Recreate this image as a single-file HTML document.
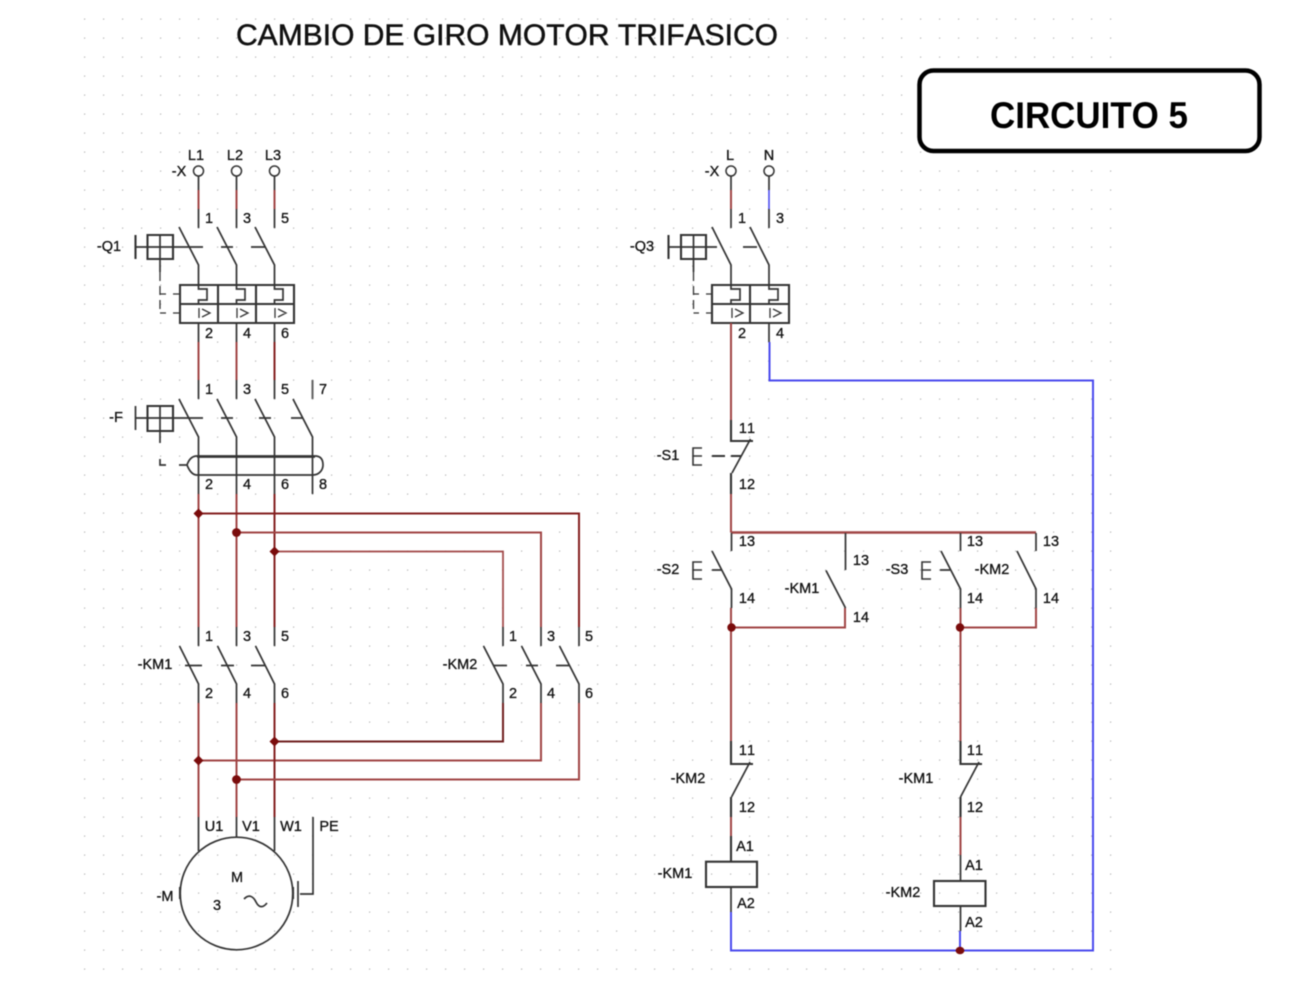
<!DOCTYPE html>
<html lang="es"><head><meta charset="utf-8"><title>Cambio de giro motor trifasico</title>
<style>
html,body{margin:0;padding:0;background:#fff}
svg{display:block;filter:blur(.4px)}
text{font-family:"Liberation Sans",sans-serif;font-size:14.5px;fill:#111;stroke:#111;stroke-width:.3px;text-anchor:middle;font-kerning:none}
.k,.r,.d,.b,.t{fill:none;stroke-linecap:butt;stroke-linejoin:miter}
.k{stroke:#333;stroke-width:1.7}
.t{stroke:#333;stroke-width:2.1}
.r{stroke:#a04545;stroke-width:2}
.d{stroke:#842020;stroke-width:2}
.b{stroke:#4a4aee;stroke-width:2}
.da{stroke-dasharray:9 5}
</style></head><body>
<svg width="1312" height="998" viewBox="0 0 1312 998" xmlns="http://www.w3.org/2000/svg">
<defs><pattern id="g" x="84" y="18.5" width="19" height="19" patternUnits="userSpaceOnUse"><rect width="1.2" height="1.2" fill="#b4b4b4"/></pattern></defs>
<rect width="1312" height="998" fill="#fff"/>
<rect x="84" y="18" width="1028" height="955" fill="url(#g)"/>

<text x="507" y="45" style="font-size:30px;stroke-width:.5px" textLength="542" lengthAdjust="spacingAndGlyphs">CAMBIO DE GIRO MOTOR TRIFASICO</text>
<rect x="919.5" y="70.5" width="340" height="80.5" rx="14" fill="#fff" stroke="#000" stroke-width="4.5"/>
<text x="1089" y="128" style="font-size:37px;font-weight:bold;fill:#000;stroke:none" textLength="198" lengthAdjust="spacingAndGlyphs">CIRCUITO 5</text>

<!-- Q1 -->
<g fill="#fff" stroke="#333" stroke-width="1.5"><circle cx="198.5" cy="171" r="5"/><circle cx="236.5" cy="171" r="5"/><circle cx="274.5" cy="171" r="5"/><circle cx="731" cy="171" r="5"/><circle cx="769" cy="171" r="5"/></g>
<path class="k" d="M198.5 176V190M236.5 176V190M274.5 176V190M198.5 209V228M236.5 209V228M274.5 209V228"/>
<path class="r" d="M198.5 190V209M236.5 190V209M274.5 190V209"/>
<path class="k" d="M179 227L198.5 265V285M217 227L236.5 265V285M255 227L274.5 265V285"/>
<path class="t" d="M135.5 235V259M147.5 235H173V259H147.5Z"/>
<path class="k" d="M160 235V259M135.5 247H203M221 247H233M251 247H265"/>
<path class="k" d="M160 259V272"/>
<path class="k da" style="stroke-width:1.3" d="M160 272V313"/>
<path class="k" style="stroke-width:1.3" d="M160 294H166M173 294H180M160 313H166M173 313H180"/>
<path class="t" d="M180 285H294V323H180ZM180 304H294M218 285V323M256 285V323"/>
<path class="k" d="M198.5 285V289H207V300H198.5V304M236.5 285V289H245V300H236.5V304M274.5 285V289H283V300H274.5V304"/>
<path class="k" style="stroke-width:1.3" d="M199 308V318M202 309L210 313L202 317M237 308V318M240 309L248 313L240 317M275 308V318M278 309L286 313L278 317"/>
<path class="k" d="M198.5 323V342M236.5 323V342M274.5 323V342"/>
<path class="r" d="M198.5 342V380M236.5 342V380"/><path class="d" d="M274.5 342V380"/>

<!-- F -->
<path class="k" d="M198.5 380V399M236.5 380V399M274.5 380V399"/><path class="t" style="stroke:#666" d="M312.5 380V399"/>
<path class="k" d="M179 399L198.5 437V494M217 399L236.5 437V494M255 399L274.5 437V494M293 399L312.5 437V494"/>
<path class="t" d="M147.5 406H173V431H147.5Z"/>
<path class="k" d="M135.5 406V430M160 406V443M135.5 418H203M221 418H233M259 418H271M291 418H303"/>
<path class="k" d="M160 459V465H166M179 465H187C189 459 192 456 197 456H315C321 456 323 460 323 465C323 470 319 475 313 475H197C192 475 189 470 187 465"/>
<path class="k" d="M197 457H315"/>

<!-- power wires -->
<path class="r" d="M198.5 494V627M236.5 494V627"/><path class="d" d="M274.5 494V627"/>
<path class="d" d="M198.5 513.5H579V627"/>
<path class="r" d="M236.5 532.5H541V627"/>
<path class="r" style="stroke-width:1.7" d="M274.5 551.5H503V627"/>
<g fill="#7a0c0c"><path d="M198.5 508.5l5 5l-5 5l-5-5z"/><circle cx="236.5" cy="532.5" r="4.4"/><path d="M274.5 546.5l5 5l-5 5l-5-5z"/></g>

<!-- KM1 / KM2 power -->
<path class="k" d="M198.5 627V646M236.5 627V646M274.5 627V646M503 627V646M541 627V646M579 627V646"/>
<path class="k" d="M179.5 646L198.5 684V703M217.5 646L236.5 684V703M255.5 646L274.5 684V703M483.5 646L503 684V703M521.5 646L541 684V703M559.5 646L579 684V703"/>
<path class="k" d="M185 665.5H202M221 665.5H234M251 665.5H265M493 665.5H507M526 665.5H538M556 665.5H570"/>
<path class="r" d="M198.5 703V817M236.5 703V817M541 703V760.5H198.5"/>
<path class="d" d="M274.5 703V817"/>
<path class="d" style="stroke:#702020" d="M503 703V741.5H274.5"/>
<path class="r" d="M579 703V779.5H236.5"/>
<g fill="#7a0c0c"><path d="M274.5 736.5l5 5l-5 5l-5-5z"/><path d="M198.5 755.5l5 5l-5 5l-5-5z"/><circle cx="236.5" cy="779.5" r="4.4"/></g>

<!-- motor -->
<path class="k" d="M198.5 817V851M236.5 817V837M274.5 817V851M313 817V894H300M298 881V907"/>
<circle cx="236.5" cy="893.5" r="56.3" fill="none" stroke="#333" stroke-width="1.7"/>
<path class="t" d="M180 887V899M293 887V899"/>
<path class="k" d="M244 899C249 894 253 896 256 902C259 908 263 908 267 903"/>

<!-- Q3 -->
<path class="k" d="M731 176V190M731 209V228M769 176V190M769 209V228"/>
<path class="r" d="M731 190V209"/><path class="b" style="stroke-width:1.6" d="M769 190V209"/>
<path class="k" d="M712 227L731 265V285M750 227L769 265V285"/>
<path class="t" d="M668.5 235V259M681 235H706V259H681Z"/>
<path class="k" d="M693.5 235V259M668.5 247H717M743 247H757"/>
<path class="k" d="M693.5 259V272"/><path class="k da" style="stroke-width:1.3" d="M693.5 272V313"/>
<path class="k" style="stroke-width:1.3" d="M693.5 294H699M706 294H712M693.5 313H699M706 313H712"/>
<path class="t" d="M712 285H789V323H712ZM712 304H789M750 285V323"/>
<path class="k" d="M731 285V289H740V300H731V304M769 285V289H778V300H769V304"/>
<path class="k" style="stroke-width:1.3" d="M732 308V318M735 309L743 313L735 317M770 308V318M773 309L781 313L773 317"/>
<path class="k" d="M769 323V342"/>
<path class="b" d="M769.5 342V380.5H1093V950.5H731V912"/>
<path class="b" d="M960 931V950"/>

<!-- control -->
<path class="r" d="M731 323V420M731 494V532.5M731 608V741"/>
<path class="t" d="M731 420V441H753"/>
<path class="k" d="M750.5 439L732 473"/>
<path class="t" d="M731 473V494"/>
<path class="t" style="stroke-width:1.6" d="M702 448H693V465H702M693 456H702"/>
<path class="t" d="M712 456H725M731 456H741"/>

<path class="r" style="stroke-width:2.4" d="M731 532.5H1036"/>
<path class="r" d="M731 627.5H845V608"/>
<path class="r" d="M960.5 608V741M960.5 627.5H1036V608"/>
<path class="k" d="M731.5 533V551M845.5 533V570M960.5 533V551M1036 533V551"/>
<path class="k" d="M712 551L731.5 589V608"/>
<path class="k" d="M826 570.5L845.5 608"/>
<path class="k" d="M941 551L960.5 589V608"/>
<path class="k" d="M1017 551L1036 589V608"/>
<path class="t" style="stroke-width:1.6" d="M702 562H693V579H702M693 570H702M931 562H922V579H931M922 570H931"/>
<path class="k" d="M712 570H722M940 570H950"/>

<!-- NC contacts -->
<path class="t" d="M731 741V764H753M960.5 741V764H982"/>
<path class="k" d="M750 762L731.5 797M979 762L960.5 797"/>
<path class="t" d="M731 797V817M731 836V861M960.5 797V817"/>
<path class="r" d="M731 817V836M960.5 817V855"/>
<path class="k" d="M960.5 855V881M731 887V912M960.5 906V931"/>
<rect x="706" y="861.7" width="51" height="25.3" fill="none" stroke="#333" stroke-width="2.1"/>
<rect x="934" y="881" width="51.5" height="25" fill="none" stroke="#333" stroke-width="2.1"/>
<g fill="#7a0c0c"><circle cx="731.5" cy="627.5" r="4.2"/><circle cx="960" cy="627.5" r="4.2"/><ellipse cx="960" cy="950.5" rx="4.4" ry="3.8"/></g>

<!-- labels -->
<text x="196" y="160">L1</text><text x="235" y="160">L2</text><text x="273" y="160">L3</text>
<text x="179" y="176">-X</text><text x="712" y="176">-X</text>
<text x="730" y="160">L</text><text x="769" y="160">N</text>
<text x="209" y="223">1</text><text x="247" y="223">3</text><text x="285" y="223">5</text>
<text x="742" y="223">1</text><text x="780" y="223">3</text>
<text x="109" y="251">-Q1</text><text x="642" y="251">-Q3</text>
<text x="209" y="338">2</text><text x="247" y="338">4</text><text x="285" y="338">6</text>
<text x="742" y="338">2</text><text x="780" y="338">4</text>
<text x="209" y="394">1</text><text x="247" y="394">3</text><text x="285" y="394">5</text><text x="323" y="394">7</text>
<text x="116" y="422">-F</text>
<text x="209" y="489">2</text><text x="247" y="489">4</text><text x="285" y="489">6</text><text x="323" y="489">8</text>
<text x="209" y="641">1</text><text x="247" y="641">3</text><text x="285" y="641">5</text>
<text x="513" y="641">1</text><text x="551" y="641">3</text><text x="589" y="641">5</text>
<text x="155" y="669">-KM1</text><text x="460" y="669">-KM2</text>
<text x="209" y="698">2</text><text x="247" y="698">4</text><text x="285" y="698">6</text>
<text x="513" y="698">2</text><text x="551" y="698">4</text><text x="589" y="698">6</text>
<text x="214" y="831">U1</text><text x="251" y="831">V1</text><text x="291" y="831">W1</text><text x="329" y="831">PE</text>
<text x="237" y="882">M</text><text x="217" y="910">3</text><text x="165" y="901">-M</text>
<text x="747" y="433">11</text><text x="668" y="460">-S1</text><text x="747" y="489">12</text>
<text x="747" y="546">13</text><text x="861" y="565">13</text><text x="975" y="546">13</text><text x="1051" y="546">13</text>
<text x="668" y="574">-S2</text><text x="897" y="574">-S3</text><text x="992" y="574">-KM2</text><text x="802" y="593">-KM1</text>
<text x="747" y="603">14</text><text x="861" y="622">14</text><text x="975" y="603">14</text><text x="1051" y="603">14</text>
<text x="747" y="755">11</text><text x="975" y="755">11</text>
<text x="688" y="783">-KM2</text><text x="916" y="783">-KM1</text>
<text x="747" y="812">12</text><text x="975" y="812">12</text>
<text x="745" y="851">A1</text><text x="974" y="870">A1</text>
<text x="675" y="878">-KM1</text><text x="903" y="897">-KM2</text>
<text x="746" y="908">A2</text><text x="974" y="927">A2</text>
</svg>
</body></html>
